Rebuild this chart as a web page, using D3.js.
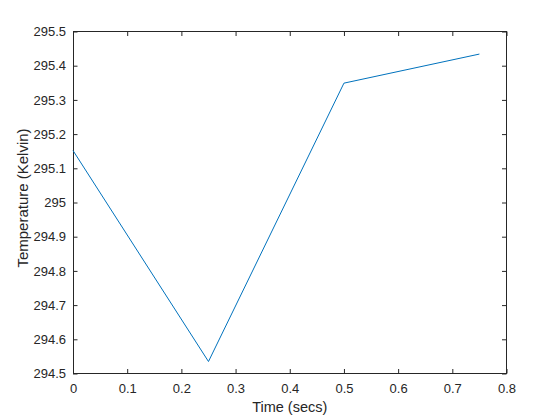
<!DOCTYPE html>
<html><head><meta charset="utf-8">
<script src="https://cdn.jsdelivr.net/npm/d3@7"></script>
<style>body{margin:0;background:#fff}svg{display:block}text{font-family:"Liberation Sans",Arial,sans-serif;fill:#262626}</style>
</head><body>
<script>
const timeSecs = [0, 0.25, 0.5, 0.75];
const tempKelvin = [295.152, 294.535, 295.349, 295.434];
const xTicks = [0, 0.1, 0.2, 0.3, 0.4, 0.5, 0.6, 0.7, 0.8];
const yTicks = [294.5, 294.6, 294.7, 294.8, 294.9, 295, 295.1, 295.2, 295.3, 295.4, 295.5];

const W = 560, H = 420;
const L = 73, R = 506.5, T = 31.5, B = 373.5;
const svg = d3.select("body").append("svg").attr("width", W).attr("height", H);
const x = d3.scaleLinear().domain([0, 0.8]).range([L, R]);
const y = d3.scaleLinear().domain([294.5, 295.5]).range([B, T]);

const fmt = d => String(+d.toFixed(4));
const tl = 4.5;
function styleAxis(g){ g.selectAll("path,line").attr("stroke","#262626"); g.select(".domain").remove(); g.selectAll("text").attr("font-size","13px").attr("fill","#262626"); }

svg.append("g").attr("transform",`translate(0,${B})`)
  .call(d3.axisBottom(x).tickValues(xTicks).tickFormat(fmt).tickSizeInner(-tl).tickSizeOuter(0).tickPadding(10))
  .call(styleAxis);
svg.append("g").attr("transform",`translate(0,${T})`)
  .call(d3.axisTop(x).tickValues(xTicks).tickFormat("").tickSizeInner(-tl).tickSizeOuter(0))
  .call(styleAxis);
svg.append("g").attr("transform",`translate(${L},0)`)
  .call(d3.axisLeft(y).tickValues(yTicks).tickFormat(fmt).tickSizeInner(-tl).tickSizeOuter(0).tickPadding(7))
  .call(styleAxis);
svg.append("g").attr("transform",`translate(${R},0)`)
  .call(d3.axisRight(y).tickValues(yTicks).tickFormat("").tickSizeInner(-tl).tickSizeOuter(0))
  .call(styleAxis);

svg.append("rect").attr("x",L).attr("y",T).attr("width",R-L).attr("height",B-T)
  .attr("fill","none").attr("stroke","#262626").attr("stroke-width",1).attr("shape-rendering","crispEdges");

const line = d3.line().x((d,i)=>x(timeSecs[i])).y(d=>y(d));
svg.append("path").datum(tempKelvin).attr("d",line).attr("fill","none").attr("stroke","#0072BD").attr("stroke-width",1);

svg.append("text").attr("x",(L+R)/2).attr("y",412).attr("text-anchor","middle").attr("font-size","14.5px").text("Time (secs)");
svg.append("text").attr("transform",`translate(27.5,198) rotate(-90)`).attr("text-anchor","middle").attr("font-size","15px").text("Temperature (Kelvin)");
</script>
</body></html>
